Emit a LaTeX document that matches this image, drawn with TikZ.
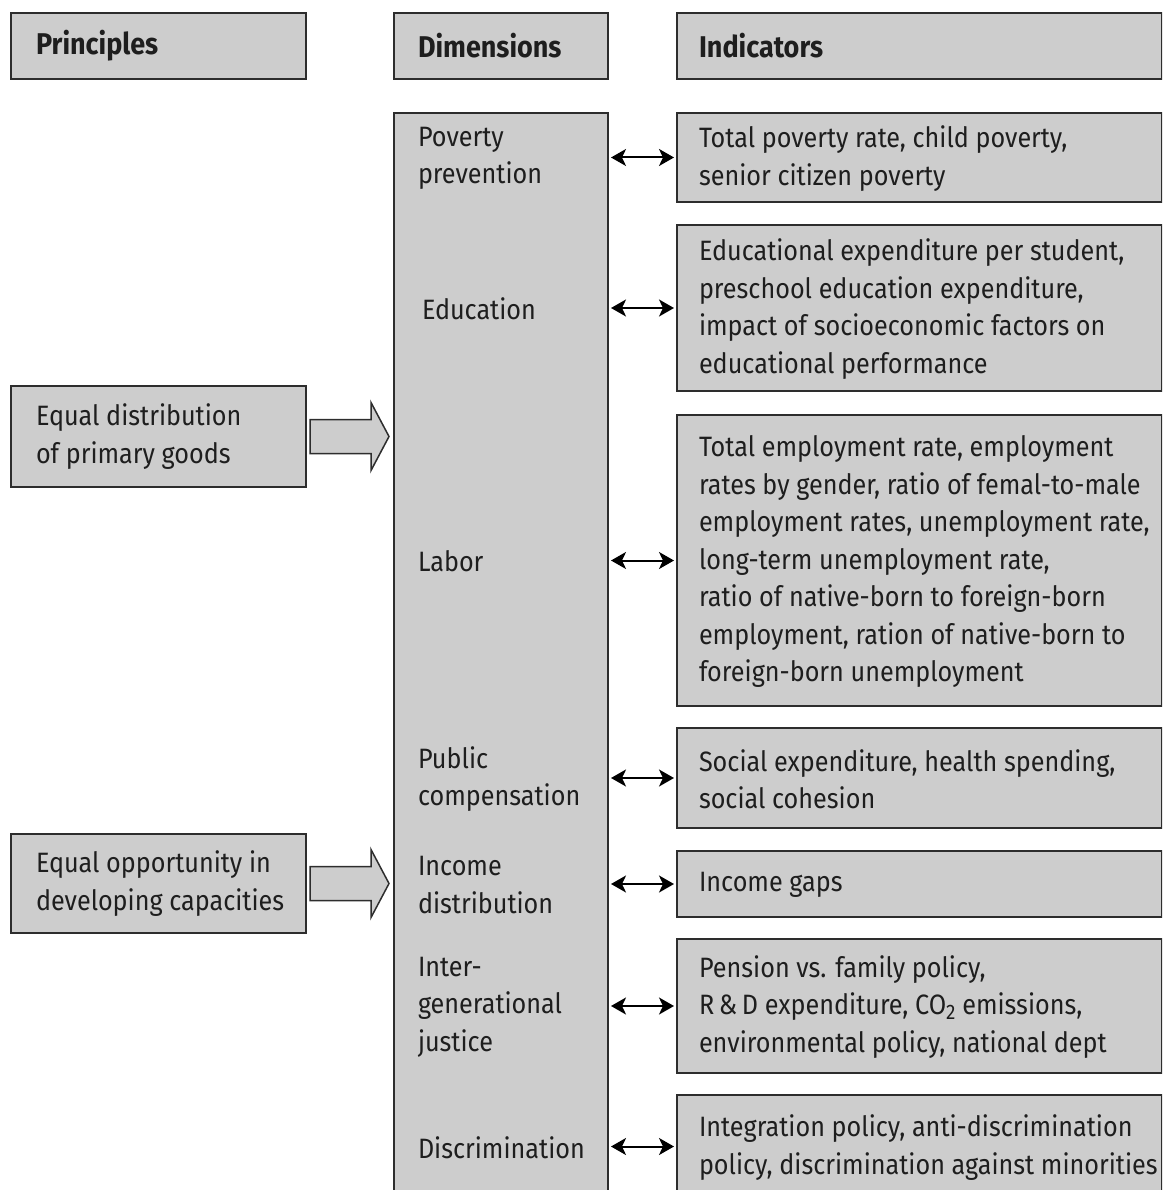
\documentclass[tikz,border=0pt]{standalone}
\usepackage{fontspec}
\setmainfont{Fira Sans}[FakeStretch=0.9]
\usepackage{tikz}
\usetikzlibrary{positioning}
\usetikzlibrary{calc}
\usetikzlibrary{arrows.meta}
\definecolor{boxgray}{RGB}{205,205,205}
\definecolor{edgegray}{RGB}{45,45,45}
\definecolor{txtgray}{RGB}{30,30,30}

\begin{document}
\begin{tikzpicture}[x=1pt, y=-1pt, line width=2pt,
    box/.style={draw=edgegray, fill=boxgray, rectangle, anchor=north west, inner sep=0pt},
    txt/.style={anchor=west, align=left, inner sep=0pt, text=txtgray,
        font=\fontsize{28}{37.5}\selectfont},
    head/.style={txt, font=\fontsize{30}{37.5}\selectfont\bfseries},
    dbl/.style={{Stealth[length=15pt,width=17pt,inset=4pt]}-{Stealth[length=15pt,width=17pt,inset=4pt]}, line width=2pt, black},
    blockarr/.style={draw=edgegray, fill=boxgray, line width=1.5pt, line join=miter}]

    \useasboundingbox (0,0) rectangle (1162,1190);
    \clip (0,0) rectangle (1162,1190);

    % headers
    \node[box, minimum width=295pt, minimum height=66pt] (hprin) at (10,12) {};
    \node[box, minimum width=214pt, minimum height=66pt] (hdim) at (393,12) {};
    \node[box, minimum width=485pt, minimum height=66pt] (hind) at (676,12) {};
    \node[head] (tprin) at ($(hprin.west)+(25,0)$) {Principles};
    \node[head] (tdim) at ($(hdim.west)+(24,0)$) {Dimensions};
    \node[head] (tind) at ($(hind.west)+(22,0)$) {Indicators};

    % principles
    \node[box, minimum width=295pt, minimum height=101pt] (p1) at (10,385) {};
    \node[box, minimum width=295pt, minimum height=99pt] (p2) at (10,833) {};
    \node[txt] (tp1) at ($(p1.west)+(25,0)$) {Equal distribution\\of primary goods};
    \node[txt] (tp2) at ($(p2.west)+(25,0)$) {Equal opportunity in\\developing capacities};

    % dimensions
    \node[box, minimum width=214pt, minimum height=1100pt] (dims) at (393,112) {};

    % indicators
    \node[box, minimum width=485pt, minimum height=89pt] (i1) at (676,112) {};
    \node[box, minimum width=485pt, minimum height=166pt] (i2) at (676,224) {};
    \node[box, minimum width=485pt, minimum height=291pt] (i3) at (676,414) {};
    \node[box, minimum width=485pt, minimum height=100pt] (i4) at (676,727) {};
    \node[box, minimum width=485pt, minimum height=66pt] (i5) at (676,850) {};
    \node[box, minimum width=485pt, minimum height=134pt] (i6) at (676,938) {};
    \node[box, minimum width=485pt, minimum height=103pt] (i7) at (676,1094) {};

    \node[txt] (ti1) at ($(i1.west)+(22,1)$) {Total poverty rate, child poverty,\\senior citizen poverty};
    \node[txt] (ti2) at ($(i2.west)+(22,1)$) {Educational expenditure per student,\\preschool education expenditure,\\impact of socioeconomic factors on\\educational performance};
    \node[txt] (ti3) at ($(i3.west)+(22,1)$) {Total employment rate, employment\\rates by gender, ratio of femal-to-male\\employment rates, unemployment rate,\\long-term unemployment rate,\\ratio of native-born to foreign-born\\employment, ration of native-born to\\foreign-born unemployment};
    \node[txt] (ti4) at ($(i4.west)+(22,1)$) {Social expenditure, health spending,\\social cohesion};
    \node[txt] (ti5) at ($(i5.west)+(22,1)$) {Income gaps};
    \node[txt] (ti6) at ($(i6.west)+(22,1)$) {Pension vs. family policy,\\R\,\&\,D expenditure, CO\raisebox{-0.3ex}{\fontsize{21}{21}\selectfont 2} emissions,\\environmental policy, national dept};
    \node[txt] (ti7) at ($(i7.west)+(22,1)$) {Integration policy, anti-discrimination\\policy, discrimination against minorities};

    % dimension labels
    \node[txt] (d1) at ($(dims.west |- i1)+(24,1)$) {Poverty\\prevention};
    \node[txt] (d2) at ($(dims.west |- i2)+(28,1)$) {Education};
    \node[txt] (d3) at ($(dims.west |- i3)+(24,1)$) {Labor};
    \node[txt] (d4) at ($(dims.west |- i4)+(24,1)$) {Public\\compensation};
    \node[txt] (d5) at ($(dims.west |- i5)+(24,1)$) {Income\\distribution};
    \node[txt] (d6) at ($(dims.west |- i6)+(24,1)$) {Inter-\\generational\\justice};
    \node[txt] (d7) at ($(dims.west |- i7)+(24,1)$) {Discrimination};

    % double arrows
    \foreach \i in {1,...,7}
        \draw[dbl] ($(dims.east |- i\i)+(2,0)$) -- ($(i\i.west)+(-2,0)$);

    % block arrows
    \foreach \p in {p1,p2}
        \draw[blockarr] ($(\p.east)+(3,-17)$) -- ++(61,0) -- ++(0,-17)
            -- ($(dims.west |- \p)+(-4,0)$) -- ($(\p.east)+(64,34)$)
            -- ++(0,-17) -- ++(-61,0) -- cycle;
\end{tikzpicture}
\end{document}
